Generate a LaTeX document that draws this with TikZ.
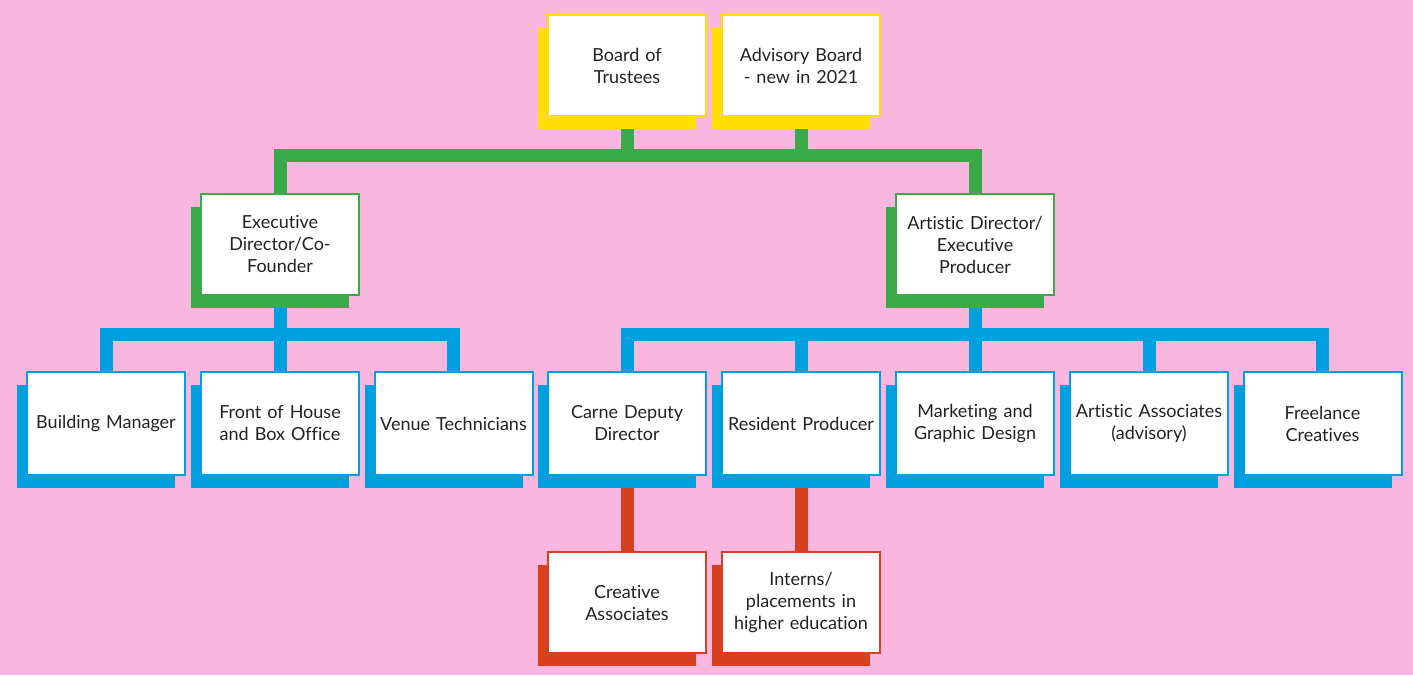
\documentclass[tikz,border=0pt]{standalone}
\usepackage{fontspec}
\setmainfont{Lato}[Ligatures=NoCommon]
\usetikzlibrary{shadows,backgrounds}
\definecolor{bgpink}{HTML}{F9B6DE}
\definecolor{cyel}{HTML}{FFDD00}
\definecolor{cgrn}{HTML}{39AA47}
\definecolor{cblu}{HTML}{009FDF}
\definecolor{cred}{HTML}{D9411E}
\definecolor{ctext}{HTML}{222222}
\tikzset{
  orgbox/.style={draw=#1, fill=white, line width=2pt, minimum width=158pt, minimum height=101pt,
    inner sep=2pt, align=center, text width=154pt, text=ctext,
    font=\fontsize{18}{22}\selectfont,
    general shadow={shadow xshift=-10pt, shadow yshift=-13pt, fill=#1, draw=none}},
  conn/.style={draw=#1, line width=13pt, line join=miter, line cap=butt}
}
\begin{document}
\begin{tikzpicture}[x=1pt,y=-1pt]
\begin{scope}[on background layer]
\fill[bgpink] (0,0) rectangle (1413,675);
\end{scope}
\useasboundingbox (0,0) rectangle (1413,675);
\coordinate (gbar) at (0,155);
\coordinate (bbar) at (0,334);
% nodes
\node[orgbox=cyel] (bot) at (627,65.5) {Board of\\Trustees};
\node[orgbox=cyel] (adv) at (801,65.5) {Advisory Board\\- new in 2021};
\node[orgbox=cgrn] (exe) at (280,244.5) {Executive\\Director/Co-\\Founder};
\node[orgbox=cgrn] (art) at (975,244.5) {Artistic Director/\\Executive\\Producer};
\node[orgbox=cblu, minimum height=103pt] (bm) at (106,423.5) {Building Manager};
\node[orgbox=cblu, minimum height=103pt] (foh) at (280,423.5) {Front of House\\and Box Office};
\node[orgbox=cblu, minimum height=103pt] (vt) at (453.5,423.5) {Venue Technicians};
\node[orgbox=cblu, minimum height=103pt] (cdd) at (627,423.5) {Carne Deputy\\Director};
\node[orgbox=cblu, minimum height=103pt] (rp) at (801,423.5) {Resident Producer};
\node[orgbox=cblu, minimum height=103pt] (mgd) at (975,423.5) {Marketing and\\Graphic Design};
\node[orgbox=cblu, minimum height=103pt] (aa) at (1149,423.5) {Artistic Associates\\(advisory)};
\node[orgbox=cblu, minimum height=103pt] (fc) at (1322.5,423.5) {Freelance\\Creatives};
\node[orgbox=cred] (ca) at (627,602.5) {Creative\\Associates};
\node[orgbox=cred] (ip) at (801,602.5) {Interns/\\placements in\\higher education};
% connectors behind boxes
\begin{scope}[on background layer]
\draw[conn=cgrn] (exe.north) -- (exe.north |- gbar) -- (art.north |- gbar) -- (art.north);
\draw[conn=cgrn] (bot.south) -- (bot.south |- gbar);
\draw[conn=cgrn] (adv.south) -- (adv.south |- gbar);
\draw[conn=cblu] (bm.north) -- (bm.north |- bbar) -- (vt.north |- bbar) -- (vt.north);
\draw[conn=cblu] (exe.south) -- (foh.north);
\draw[conn=cblu] (cdd.north) -- (cdd.north |- bbar) -- (fc.north |- bbar) -- (fc.north);
\draw[conn=cblu] (art.south) -- (mgd.north);
\draw[conn=cblu] (rp.north) -- (rp.north |- bbar);
\draw[conn=cblu] (aa.north) -- (aa.north |- bbar);
\draw[conn=cred] (cdd.south) -- (ca.north);
\draw[conn=cred] (rp.south) -- (ip.north);
\end{scope}
\end{tikzpicture}
\end{document}
